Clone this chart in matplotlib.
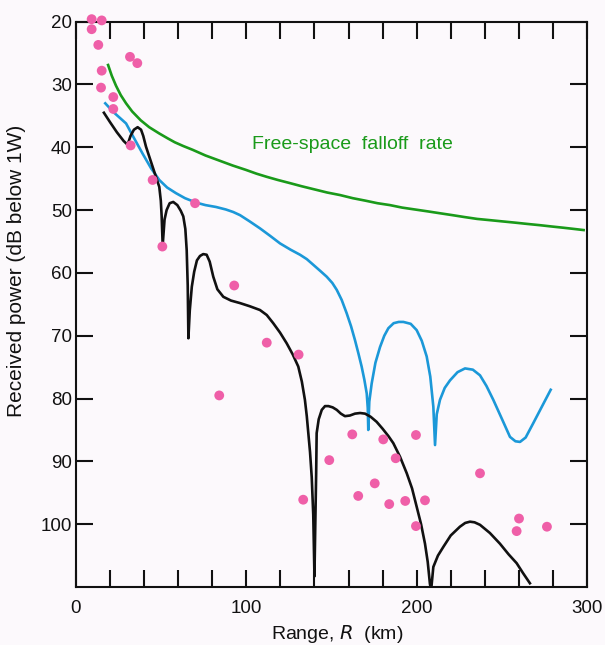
import matplotlib
matplotlib.use("Agg")
import matplotlib.pyplot as plt

plt.rcParams['font.family'] = ['Liberation Sans', 'DejaVu Sans']

# Measured data points (range km, received power dB below 1W)
meas_x = [9.2, 15.1, 9.2, 13.1, 15.1, 14.7, 21.9, 21.9, 31.7, 36.0, 32.1, 45.0,
          69.9, 50.7, 92.9, 112.0, 130.7, 84.1, 133.4, 148.7, 162.2, 165.7, 175.4,
          180.4, 183.9, 187.7, 193.3, 199.6, 199.6, 204.9, 237.2, 258.7, 260.1, 276.5]
meas_y = [19.6, 19.8, 21.2, 23.7, 27.8, 30.5, 32.0, 33.9, 25.6, 26.6, 39.7, 45.2,
          48.9, 55.8, 62.0, 71.1, 73.0, 79.5, 96.1, 89.8, 85.7, 95.5, 93.5,
          86.5, 96.8, 89.5, 96.3, 85.8, 100.3, 96.2, 91.9, 101.1, 99.1, 100.4]

# Free-space falloff curve
free_x = [18.6, 21.0, 23.5, 26.3, 29.4, 33.0, 38.0, 43.0, 48.9, 54.0, 58.0, 63.0, 68.5,
          76.0, 84.0, 92.0, 99.8, 106.0, 112.0, 118.5, 125.6, 132.5, 140.0, 147.5,
          155.0, 162.5, 170.0, 177.0, 184.3, 191.5, 199.0, 206.5, 213.7, 221.0,
          228.0, 235.5, 243.1, 250.5, 258.0, 265.0, 272.4, 279.0, 286.0, 292.5, 298.8]
free_y = [26.7, 28.6, 30.2, 31.7, 33.0, 34.3, 35.7, 36.8, 37.8, 38.6, 39.2, 39.8, 40.4,
          41.3, 42.1, 42.9, 43.6, 44.2, 44.7, 45.2, 45.7, 46.2, 46.7, 47.2,
          47.6, 48.1, 48.5, 48.9, 49.2, 49.6, 49.9, 50.2, 50.5, 50.8,
          51.1, 51.4, 51.6, 51.8, 52.0, 52.2, 52.4, 52.6, 52.8, 53.0, 53.2]

# Blue model curve
blue_x = [17.2, 22.0, 29.4, 34.0, 39.1, 44.0, 48.9, 53.5, 58.7, 64.0, 70.5, 76.0, 82.2,
          88.0, 92.3, 96.3, 102.0, 108.0, 114.0, 119.8, 126.0, 131.5, 135.5, 139.3,
          143.5, 147.2, 150.5, 153.1, 156.0, 158.9, 161.5, 163.8, 165.8, 167.7,
          169.3, 170.7, 171.3, 171.6, 172.2, 173.6, 175.8, 178.5, 181.0, 183.4,
          186.5, 189.5, 192.2, 196.5, 200.0, 203.0, 205.9, 208.0, 209.8, 210.8, 211.8,
          213.7, 216.5, 219.6, 224.0, 228.4, 233.0, 237.2, 241.0, 245.0, 250.0, 254.8,
          258.0, 260.7, 264.0, 268.5, 273.5, 278.7]
blue_y = [33.0, 34.4, 36.2, 38.5, 41.0, 43.3, 45.2, 46.4, 47.3, 48.1, 48.8, 49.2, 49.5,
          49.9, 50.3, 50.8, 51.8, 52.9, 54.1, 55.3, 56.3, 57.1, 57.8, 58.7,
          59.7, 60.6, 61.6, 62.7, 64.3, 66.4, 68.5, 70.7, 72.8, 74.9,
          77.0, 79.2, 81.5, 85.0, 80.5, 77.6, 74.3, 71.8, 70.0, 68.8,
          68.0, 67.8, 67.8, 68.1, 69.1, 70.8, 73.3, 76.5, 81.3, 87.4, 82.5,
          80.2, 78.3, 77.1, 75.8, 75.2, 75.4, 76.3, 78.0, 80.2, 83.2, 86.1,
          86.8, 86.9, 86.2, 83.9, 81.3, 78.6]

# Black model curve
black_x = [16.4, 20.0, 24.0, 28.0, 30.3, 32.0, 34.0, 36.2, 38.2, 39.5, 41.1, 45.0, 48.9,
           49.8, 50.3, 50.9, 52.0, 53.2, 55.0, 57.1, 59.5, 61.5, 63.0, 64.2, 65.0,
           65.6, 66.0, 66.8, 68.0, 69.4, 71.0, 72.8, 74.7, 76.7, 78.5, 80.6, 83.0,
           86.5, 91.0, 96.3, 102.0, 108.0, 112.0, 115.8, 119.8, 123.7, 127.3, 130.5,
           132.6, 134.4, 135.5, 136.4, 137.4, 138.4, 139.3, 140.0, 140.5,
           141.0, 141.3, 142.5, 144.3, 146.2, 148.2, 150.7, 153.1, 155.5,
           157.9, 160.8, 163.8, 166.8, 169.7, 173.0, 176.5, 180.0,
           183.5, 186.3, 190.3, 194.2, 197.3, 200.0, 202.6, 204.9, 206.5, 207.8, 208.5,
           209.8, 212.5, 215.7, 220.0, 225.4, 228.5, 231.3, 234.0, 237.2, 243.0,
           248.9, 254.0, 258.7, 262.5, 266.5]
black_y = [34.5, 36.0, 37.6, 39.0, 39.6, 38.2, 37.2, 36.8, 37.2, 38.2, 39.9, 43.1, 46.3,
           48.5, 51.0, 55.6, 51.5, 50.0, 48.9, 48.7, 49.2, 50.1, 51.0, 53.0, 56.4,
           62.0, 70.4, 66.0, 62.2, 59.8, 58.0, 57.3, 57.0, 57.1, 58.2, 60.6, 62.6,
           63.8, 64.4, 64.8, 65.3, 65.9, 66.7, 68.0, 69.5, 71.2, 73.0, 74.9,
           77.3, 80.2, 82.8, 85.5, 88.5, 92.5, 98.5, 108.3, 100.0,
           92.0, 85.5, 83.3, 81.8, 81.2, 81.2, 81.4, 81.8, 82.4,
           82.8, 82.7, 82.4, 82.3, 82.4, 82.9, 83.7, 84.8,
           86.0, 87.1, 89.3, 91.9, 94.3, 97.2, 100.0, 103.1, 106.0, 109.5, 110.5,
           106.8, 105.0, 103.6, 101.8, 100.4, 99.8, 99.6, 99.7, 100.1, 101.4,
           103.1, 104.8, 106.2, 107.8, 109.4]

x_ticks = list(range(0, 301, 20))
x_labels = [str(t) if t % 100 == 0 else "" for t in x_ticks]
y_ticks = list(range(20, 101, 10))
y_labels = [str(t) for t in y_ticks]

bg = '#fcf9fc'
fig = plt.figure(figsize=(6.05, 6.45), dpi=100, facecolor=bg)
ax = fig.add_axes([0.1256, 0.0899, 0.8446, 0.8765], facecolor=bg)

ax.plot(free_x, free_y, color='#1a9a1a', lw=1.9, solid_capstyle='butt', solid_joinstyle='round')
ax.plot(blue_x, blue_y, color='#1b98d8', lw=1.9, solid_joinstyle='round')
ax.plot(black_x, black_y, color='#111111', lw=1.9, solid_joinstyle='round')
ax.scatter(meas_x, meas_y, s=50, color='#ef5fa8', edgecolors='none', zorder=3, clip_on=False)

ax.text(103.3, 39.6, "Free-space  falloff  rate", color='#1a9a1a', fontsize=14,
        ha='left', va='center')

ax.set_xlim(0, 300)
ax.set_ylim(110, 20)
ax.set_xticks(x_ticks)
ax.set_xticklabels(x_labels)
ax.set_yticks(y_ticks)
ax.set_yticklabels(y_labels)
ax.tick_params(axis='both', direction='in', length=12, width=1.5, labelsize=13.5,
               top=True, right=True, color='#111111', labelcolor='#111111')
ax.tick_params(axis='y', pad=3)
ax.tick_params(axis='x', pad=9)
for sp in ax.spines.values():
    sp.set_linewidth(1.5)
    sp.set_color('#111111')

ax.set_ylabel("Received power (dB below 1W)", fontsize=15, color='#111111')
ax.yaxis.set_label_coords(-0.098, 0.56)
ax.set_xlabel(r"Range, $\it{R}$  (km)", fontsize=14, color='#111111')
ax.xaxis.set_label_coords(0.511, -0.064)

fig.savefig("out.png", dpi=100, facecolor=bg)
